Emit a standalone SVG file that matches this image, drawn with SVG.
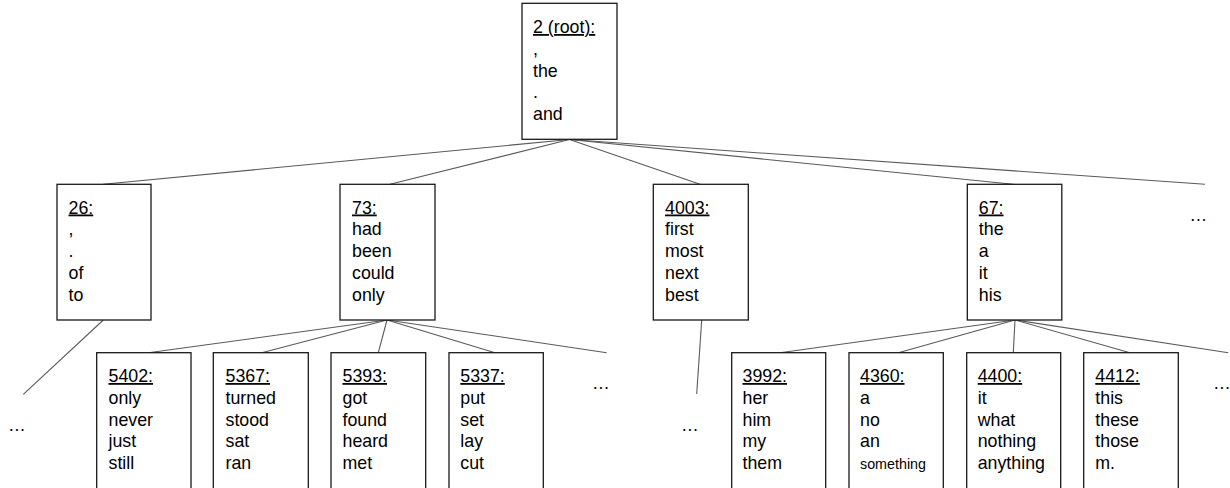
<svg xmlns="http://www.w3.org/2000/svg" width="1230" height="488" viewBox="0 0 1230 488">
<style>
  .box { fill: #ffffff; stroke: #1a1a1a; stroke-width: 1.3; }
  .edge { stroke: #5a5a5a; stroke-width: 1.1; fill: none; }
  text { font-family: "Liberation Sans", Arial, sans-serif; font-size: 17.8px; fill: #000; }
  .hd { text-decoration: underline; }
  .sm { font-size: 14.3px; }
</style>
<rect width="1230" height="488" fill="#ffffff"/>
<g id="connectors">
  <line class="edge" x1="569.5" y1="139.5" x2="103.3" y2="184.3"/>
  <line class="edge" x1="569.5" y1="139.5" x2="390" y2="184.3"/>
  <line class="edge" x1="569.5" y1="139.5" x2="700" y2="184.3"/>
  <line class="edge" x1="569.5" y1="139.5" x2="1013.3" y2="184.3"/>
  <line class="edge" x1="569.5" y1="139.5" x2="1205" y2="184.3"/>
  <line class="edge" x1="103.3" y1="320" x2="23.3" y2="394.3"/>
  <line class="edge" x1="387" y1="320" x2="148.3" y2="352.7"/>
  <line class="edge" x1="387" y1="320" x2="261.7" y2="352.7"/>
  <line class="edge" x1="387" y1="320" x2="378.3" y2="352.7"/>
  <line class="edge" x1="387" y1="320" x2="495" y2="352.7"/>
  <line class="edge" x1="387" y1="320" x2="606.7" y2="352.7"/>
  <line class="edge" x1="701.7" y1="320" x2="696.7" y2="394"/>
  <line class="edge" x1="1015" y1="320" x2="780" y2="352.7"/>
  <line class="edge" x1="1015" y1="320" x2="898.3" y2="352.7"/>
  <line class="edge" x1="1015" y1="320" x2="1013.3" y2="352.7"/>
  <line class="edge" x1="1015" y1="320" x2="1130" y2="352.7"/>
  <line class="edge" x1="1015" y1="320" x2="1228.3" y2="352.7"/>
</g>
<g id="node-root">
  <rect class="box" x="522" y="3.3" width="95" height="136"/>
  <text x="533" y="33"><tspan class="hd">2 (root):</tspan><tspan x="533" dy="21.75">,</tspan><tspan x="533" dy="21.75">the</tspan><tspan x="533" dy="21.75">.</tspan><tspan x="533" dy="21.75">and</tspan></text>
</g>
<g id="node-26">
  <rect class="box" x="57" y="184.3" width="94" height="135.7"/>
  <text x="68.5" y="213.5"><tspan class="hd">26:</tspan><tspan x="68.5" dy="21.75">,</tspan><tspan x="68.5" dy="21.75">.</tspan><tspan x="68.5" dy="21.75">of</tspan><tspan x="68.5" dy="21.75">to</tspan></text>
</g>
<g id="node-73">
  <rect class="box" x="340" y="184.3" width="95" height="135.7"/>
  <text x="352" y="213.5"><tspan class="hd">73:</tspan><tspan x="352" dy="21.75">had</tspan><tspan x="352" dy="21.75">been</tspan><tspan x="352" dy="21.75">could</tspan><tspan x="352" dy="21.75">only</tspan></text>
</g>
<g id="node-4003">
  <rect class="box" x="653.3" y="184.3" width="95" height="135.7"/>
  <text x="665" y="213.5"><tspan class="hd">4003:</tspan><tspan x="665" dy="21.75">first</tspan><tspan x="665" dy="21.75">most</tspan><tspan x="665" dy="21.75">next</tspan><tspan x="665" dy="21.75">best</tspan></text>
</g>
<g id="node-67">
  <rect class="box" x="967.3" y="184.3" width="94.5" height="135.7"/>
  <text x="978.8" y="213.5"><tspan class="hd">67:</tspan><tspan x="978.8" dy="21.75">the</tspan><tspan x="978.8" dy="21.75">a</tspan><tspan x="978.8" dy="21.75">it</tspan><tspan x="978.8" dy="21.75">his</tspan></text>
</g>
<g id="more-root">
  <text x="1189.5" y="221">…</text>
</g>
<g id="more-26">
  <text x="8" y="431">…</text>
</g>
<g id="more-73">
  <text x="592" y="389">…</text>
</g>
<g id="more-4003">
  <text x="681" y="431">…</text>
</g>
<g id="more-67">
  <text x="1213" y="389">…</text>
</g>
<g id="node-5402">
  <rect class="box" x="96.7" y="352.7" width="94.3" height="136"/>
  <text x="108.5" y="382"><tspan class="hd">5402:</tspan><tspan x="108.5" dy="21.75">only</tspan><tspan x="108.5" dy="21.75">never</tspan><tspan x="108.5" dy="21.75">just</tspan><tspan x="108.5" dy="21.75">still</tspan></text>
</g>
<g id="node-5367">
  <rect class="box" x="213.3" y="352.7" width="95" height="136"/>
  <text x="225.5" y="382"><tspan class="hd">5367:</tspan><tspan x="225.5" dy="21.75">turned</tspan><tspan x="225.5" dy="21.75">stood</tspan><tspan x="225.5" dy="21.75">sat</tspan><tspan x="225.5" dy="21.75">ran</tspan></text>
</g>
<g id="node-5393">
  <rect class="box" x="331" y="352.7" width="94.7" height="136"/>
  <text x="342.5" y="382"><tspan class="hd">5393:</tspan><tspan x="342.5" dy="21.75">got</tspan><tspan x="342.5" dy="21.75">found</tspan><tspan x="342.5" dy="21.75">heard</tspan><tspan x="342.5" dy="21.75">met</tspan></text>
</g>
<g id="node-5337">
  <rect class="box" x="449" y="352.7" width="94.3" height="136"/>
  <text x="460.3" y="382"><tspan class="hd">5337:</tspan><tspan x="460.3" dy="21.75">put</tspan><tspan x="460.3" dy="21.75">set</tspan><tspan x="460.3" dy="21.75">lay</tspan><tspan x="460.3" dy="21.75">cut</tspan></text>
</g>
<g id="node-3992">
  <rect class="box" x="731.7" y="352.7" width="94" height="136"/>
  <text x="742.5" y="382"><tspan class="hd">3992:</tspan><tspan x="742.5" dy="21.75">her</tspan><tspan x="742.5" dy="21.75">him</tspan><tspan x="742.5" dy="21.75">my</tspan><tspan x="742.5" dy="21.75">them</tspan></text>
</g>
<g id="node-4360">
  <rect class="box" x="849" y="352.7" width="94.3" height="136"/>
  <text x="860" y="382"><tspan class="hd">4360:</tspan><tspan x="860" dy="21.75">a</tspan><tspan x="860" dy="21.75">no</tspan><tspan x="860" dy="21.75">an</tspan><tspan x="860" dy="21.25" class="sm">something</tspan></text>
</g>
<g id="node-4400">
  <rect class="box" x="966.7" y="352.7" width="94" height="136"/>
  <text x="977.7" y="382"><tspan class="hd">4400:</tspan><tspan x="977.7" dy="21.75">it</tspan><tspan x="977.7" dy="21.75">what</tspan><tspan x="977.7" dy="21.75">nothing</tspan><tspan x="977.7" dy="21.75">anything</tspan></text>
</g>
<g id="node-4412">
  <rect class="box" x="1083.7" y="352.7" width="94.6" height="136"/>
  <text x="1095.3" y="382"><tspan class="hd">4412:</tspan><tspan x="1095.3" dy="21.75">this</tspan><tspan x="1095.3" dy="21.75">these</tspan><tspan x="1095.3" dy="21.75">those</tspan><tspan x="1095.3" dy="21.75">m.</tspan></text>
</g>
</svg>
